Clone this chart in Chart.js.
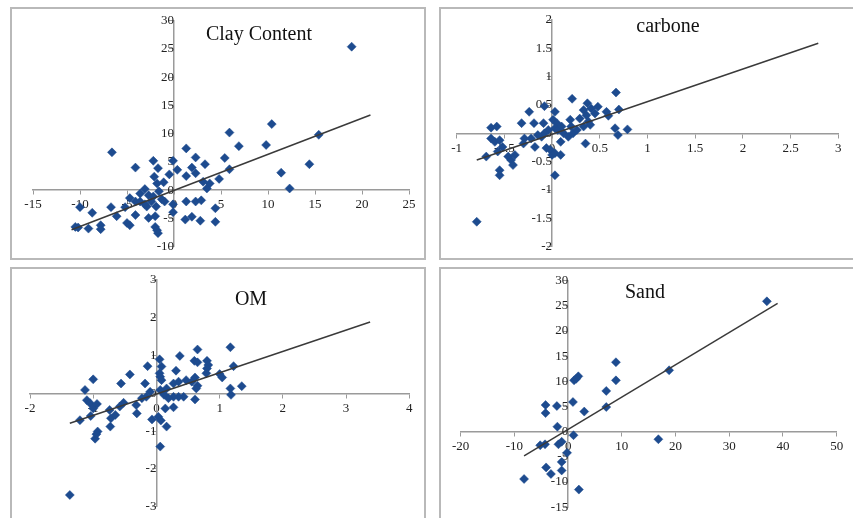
<!DOCTYPE html>
<html>
<head>
<meta charset="utf-8">
<script src="https://cdn.jsdelivr.net/npm/chart.js@4.4.1/dist/chart.umd.min.js"></script>
<style>
  html, body { margin: 0; padding: 0; background: #fff; }
  #page { position: relative; width: 853px; height: 518px; overflow: hidden; background: #fff; }
  .frame { position: absolute; box-sizing: border-box; border: 2px solid #b9b9b9; }
  canvas { position: absolute; }
</style>
</head>
<body>
<div id="page">
  <div class="frame" style="left:10px;top:7px;width:416px;height:253px;"></div>
  <div class="frame" style="left:439px;top:7px;width:420px;height:253px;"></div>
  <div class="frame" style="left:10px;top:267px;width:416px;height:260px;"></div>
  <div class="frame" style="left:439px;top:267px;width:420px;height:260px;"></div>
  <canvas id="c1" width="412" height="249" style="left:12px;top:9px;width:412px;height:249px;"></canvas>
  <canvas id="c2" width="412" height="249" style="left:441px;top:9px;width:412px;height:249px;"></canvas>
  <canvas id="c3" width="412" height="249" style="left:12px;top:269px;width:412px;height:249px;"></canvas>
  <canvas id="c4" width="412" height="249" style="left:441px;top:269px;width:412px;height:249px;"></canvas>
</div>
<script>
// ---------- Data ----------
const clayX = [18.9, 10.4, 15.4, 5.9, 9.8, 6.9, 14.4, 11.4, 12.3, 5.9, 5.4, 4.8,
  -6.6, -4.1, -2.2, -0.1, -1.7, 1.3, 2.3, 3.3, 1.9, 0.35, -0.5, -2.1, 1.3, 2.3,
  -1.1, -1.8, -3.1, -3.6, -2.7, -2.2, -1.6, -1.3, -1.0, -2.4, -4.7, -4.1, -5.2,
  -2.9, -3.1, -1.9, -0.1, -0.1, 1.3, 2.3, 2.9, 4.4, 1.2, 1.9, 2.8, 4.4, 3.1, 3.8,
  3.5, -10.0, -8.7, -6.7, -6.1, -5.0, -4.7, -4.1, -2.7, -2.0, -1.8, -1.7, -7.8,
  -7.8, -9.1, -10.5, -10.2, -2.0, -3.6];
const clayY = [25.4, 11.7, 9.8, 10.2, 8.0, 7.8, 4.6, 3.1, 0.3, 3.7, 5.7, 2.0,
  6.7, 4.0, 5.2, 5.2, 3.9, 7.4, 5.8, 4.6, 4.0, 3.6, 2.8, 2.4, 2.5, 3.0,
  1.4, 1.2, 0.2, -0.6, -0.9, -1.1, -0.2, -1.6, -2.0, -2.0, -1.4, -2.0, -3.0,
  -2.9, -2.5, -2.9, -2.5, -3.9, -2.0, -2.0, -1.8, -3.2, -5.2, -4.7, -5.4, -5.6, 1.5, 1.2,
  0.3, -3.0, -4.0, -3.0, -4.6, -5.8, -6.2, -4.4, -4.9, -6.5, -7.1, -7.6, -6.2,
  -6.9, -6.8, -6.5, -6.6, -4.6, -2.0];
const clayTrendX = [-10.9, 20.9];
const clayTrendY = [-7.0, 13.3];

const carbX = [-0.79, -0.64, -0.58, -0.64, -0.60, -0.55, -0.69, -0.57, -0.52, -0.55, -0.55,
  -0.46, -0.43, -0.41, -0.39, -0.32, -0.29, -0.30, -0.24, -0.18, -0.19, -0.09, -0.08,
  -0.11, -0.06, -0.02, 0.0, 0.03, 0.09, 0.03, 0.03, 0.01, 0.05, 0.03, 0.06, 0.10, 0.12,
  0.09, 0.17, 0.20, 0.22, 0.19, 0.21, 0.26, 0.29, 0.33, 0.36, 0.37, 0.38, 0.40, 0.35,
  0.41, 0.45, 0.48, 0.57, 0.59, 0.67, 0.70, 0.66, 0.69, 0.79, 0.33, -0.04, -0.08, -0.15, -0.22];
const carbY = [-1.56, 0.10, 0.12, -0.09, -0.15, -0.12, -0.41, -0.32, -0.24, -0.65, -0.74,
  -0.41, -0.47, -0.56, -0.38, 0.18, -0.09, -0.18, 0.38, -0.24, 0.18, 0.18, 0.48,
  -0.06, -0.26, -0.29, -0.38, -0.35, -0.38, -0.74, 0.38, 0.24, 0.18, 0.09, 0.06, 0.12, 0.0,
  -0.15, -0.06, 0.12, 0.0, 0.24, 0.61, 0.06, 0.26, 0.41, 0.32, 0.53, 0.21, 0.15, -0.18,
  0.44, 0.35, 0.47, 0.38, 0.31, 0.72, 0.42, 0.09, -0.03, 0.07, 0.12, 0.06, 0.0, -0.03, -0.09];
const carbTrendX = [-0.79, 2.79];
const carbTrendY = [-0.47, 1.59];

const omX = [1.17, 0.65, 0.37, 0.05, -0.14, 0.08, 0.60, 0.65, 0.80, 0.82, 1.22, 0.31, 0.05,
  0.06, 0.08, -0.42, -0.56, -1.0, -1.13, -1.10, -1.05, -1.0, -0.94, -1.21, -1.04, -0.93,
  -0.97, -0.74, -0.72, -0.73, -0.65, -0.58, -0.52, -0.32, -0.31, -0.18, -0.16, -0.23,
  -0.10, -0.07, 0.03, 0.07, 0.16, 0.14, 0.27, 0.12, 0.06, 0.16, 0.27, 0.35, 0.47, 0.56,
  0.61, 0.65, 0.63, 0.61, 0.43, 0.35, 0.27, 0.19, 0.79, 1.0, 1.04, 1.17, 1.35, 1.18, 0.80,
  -1.37, 0.06, -0.95];
const omY = [1.22, 1.16, 0.99, 0.90, 0.72, 0.71, 0.86, 0.82, 0.86, 0.75, 0.72, 0.60, 0.53,
  0.44, 0.35, 0.50, 0.26, 0.37, 0.09, -0.18, -0.26, -0.40, -0.28, -0.71, -0.60, -1.01,
  -1.20, -0.44, -0.66, -0.88, -0.57, -0.35, -0.25, -0.31, -0.53, 0.26, -0.09, -0.13,
  0.04, -0.69, -0.62, -0.72, -0.88, -0.40, -0.37, -0.04, 0.09, 0.13, 0.26, 0.31, 0.35, 0.31,
  0.42, 0.20, 0.13, -0.16, -0.09, -0.09, -0.09, -0.13, 0.53, 0.51, 0.42, 0.13, 0.19, -0.04, 0.66,
  -2.69, -1.41, -1.08];
const omTrendX = [-1.37, 3.38];
const omTrendY = [-0.79, 1.89];

const sandX = [-8.2, -4.2, -4.2, -2.1, -2.0, -5.2, -4.3, -1.8, -1.2, -0.2, -1.2, -1.2, -4.1,
  -3.2, 2.0, 1.0, 0.9, 1.1, 1.9, 1.5, 3.0, 7.1, 7.1, 8.9, 8.9, 18.8, 37.0, 16.8];
const sandY = [-9.4, 5.3, 3.7, 5.1, 1.0, -2.7, -2.5, -2.5, -2.0, -4.2, -6.0, -7.7, -7.1,
  -8.4, -11.5, -0.7, 5.9, 10.2, 11.0, 10.5, 4.0, 8.1, 4.9, 13.8, 10.2, 12.2, 25.9, -1.5];
const sandTrendX = [-8.2, 39.0];
const sandTrendY = [-4.8, 25.5];

const clayRange = { x: [-15, 25, 5], y: [-10, 30, 5] };
const carbRange = { x: [-1, 3, 0.5], y: [-2, 2, 0.5] };
const omRange = { x: [-2, 4, 1], y: [-3, 3, 1] };
const sandRange = { x: [-20, 50, 10], y: [-15, 30, 5] };

// ---------- Helpers ----------
const zip = (xs, ys) => xs.map((x, i) => ({ x: x, y: ys[i] }));
const fmt = (v) => String(Math.round(v * 100) / 100);

const panelTitle = {
  id: 'panelTitle',
  afterDraw(chart, args, opts) {
    const ctx = chart.ctx;
    ctx.save();
    ctx.font = opts.font;
    ctx.fillStyle = opts.color;
    ctx.textAlign = 'center';
    ctx.textBaseline = 'alphabetic';
    ctx.fillText(opts.text, opts.x, opts.y);
    ctx.restore();
  }
};

const POINT = '#1d4b8f';
const AXIS = '#9a9a9a';
const tickFont = { family: "'Liberation Serif', 'Times New Roman', serif", size: 13 };

function makeChart(id, title, tpos, px, py, tx, ty, range, pad) {
  const axisCommon = (r) => ({
    type: 'linear',
    min: r[0], max: r[1],
    grid: { display: true, drawOnChartArea: false, drawTicks: true, tickLength: 4, color: AXIS, lineWidth: 1 },
    border: { display: true, color: AXIS, width: 1.5 },
    ticks: { stepSize: r[2], font: tickFont, color: '#222', padding: 3, autoSkip: false, maxRotation: 0, callback: fmt }
  });
  const xs = Object.assign(axisCommon(range.x), { position: { y: 0 } });
  const ys = Object.assign(axisCommon(range.y), { position: { x: 0 } });
  return new Chart(document.getElementById(id), {
    type: 'scatter',
    data: {
      datasets: [
        { type: 'line', data: zip(tx, ty), borderColor: '#3a3a3a', borderWidth: 1.5, pointRadius: 0, fill: false, tension: 0 },
        { data: zip(px, py), pointStyle: 'rectRot', pointRadius: 4.5, backgroundColor: POINT, borderColor: POINT, borderWidth: 0.5 }
      ]
    },
    options: {
      responsive: false,
      animation: false,
      layout: { padding: pad },
      scales: { x: xs, y: ys },
      plugins: {
        legend: { display: false },
        tooltip: { enabled: false },
        panelTitle: { text: title, x: tpos[0], y: tpos[1], font: "20px 'Liberation Serif', 'Times New Roman', serif", color: '#111' }
      }
    },
    plugins: [panelTitle]
  });
}

makeChart('c1', 'Clay Content', [247, 31], clayX, clayY, clayTrendX, clayTrendY, clayRange,
  { left: 21, right: 15, top: 11.7, bottom: 11.3 });
makeChart('c2', 'carbone', [227, 23], carbX, carbY, carbTrendX, carbTrendY, carbRange,
  { left: 15.7, right: 14.7, top: 11, bottom: 11.3 });
makeChart('c3', 'OM', [239, 36], omX, omY, omTrendX, omTrendY, omRange,
  { left: 18, right: 14.7, top: 11, bottom: 11.3 });
makeChart('c4', 'Sand', [204, 29], sandX, sandY, sandTrendX, sandTrendY, sandRange,
  { left: 19.7, right: 16.3, top: 11.7, bottom: 9.7 });
</script>
</body>
</html>
